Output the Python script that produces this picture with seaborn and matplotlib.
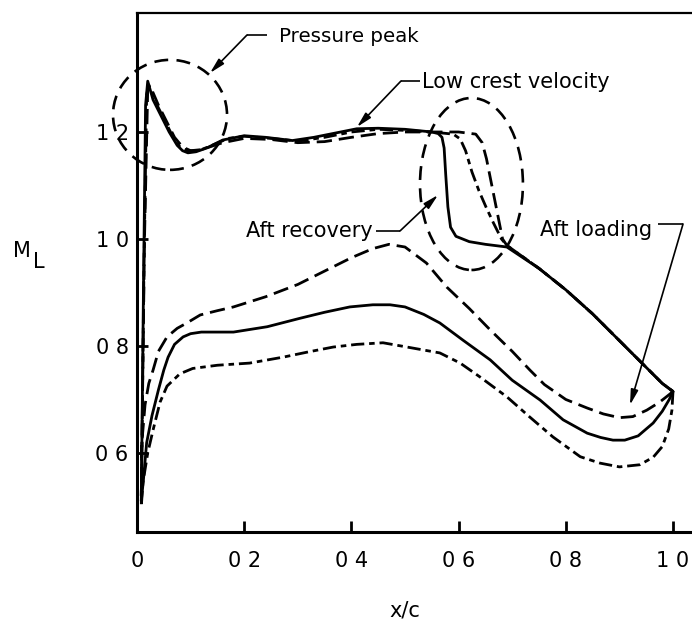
import numpy as np
import pandas as pd
import matplotlib
matplotlib.use("Agg")
import matplotlib.pyplot as plt
from matplotlib.patches import Ellipse
import seaborn as sns

# ---------------- data ----------------
# solid configuration
solid_upper_x = [0.008, 0.012, 0.016, 0.02, 0.03, 0.045, 0.06, 0.075, 0.085, 0.095, 0.11, 0.13, 0.16, 0.20,
                 0.24, 0.29, 0.33, 0.37, 0.41, 0.45, 0.50, 0.55, 0.562, 0.569, 0.573, 0.576, 0.58, 0.585,
                 0.595, 0.62, 0.65, 0.69, 0.75, 0.80, 0.85, 0.89, 0.93, 0.96, 0.98, 1.0]
solid_upper_m = [0.51, 0.90, 1.25, 1.295, 1.26, 1.23, 1.20, 1.175, 1.165, 1.161, 1.163, 1.17, 1.185, 1.193,
                 1.19, 1.184, 1.19, 1.198, 1.206, 1.207, 1.205, 1.20, 1.197, 1.19, 1.17, 1.12, 1.06, 1.022,
                 1.005, 0.995, 0.99, 0.985, 0.945, 0.905, 0.86, 0.82, 0.78, 0.75, 0.73, 0.715]
solid_lower_x = [0.008, 0.012, 0.018, 0.028, 0.04, 0.05, 0.058, 0.07, 0.086, 0.10, 0.12, 0.14, 0.18, 0.243,
                 0.305, 0.35, 0.397, 0.44, 0.472, 0.50, 0.535, 0.565, 0.608, 0.659, 0.70, 0.752, 0.795,
                 0.84, 0.865, 0.888, 0.91, 0.935, 0.963, 0.98, 0.993, 1.0]
solid_lower_m = [0.51, 0.55, 0.619, 0.67, 0.718, 0.755, 0.779, 0.803, 0.817, 0.823, 0.826, 0.826, 0.826,
                 0.836, 0.852, 0.863, 0.873, 0.877, 0.877, 0.873, 0.859, 0.843, 0.811, 0.774, 0.736, 0.699,
                 0.662, 0.637, 0.629, 0.624, 0.624, 0.632, 0.656, 0.678, 0.700, 0.715]

# long-dash configuration
dash_upper_x = [0.008, 0.014, 0.02, 0.025, 0.04, 0.055, 0.07, 0.085, 0.10, 0.12, 0.16, 0.2, 0.25, 0.3,
                0.35, 0.4, 0.45, 0.5, 0.55, 0.6, 0.632, 0.644, 0.652, 0.658, 0.664, 0.67, 0.676, 0.682,
                0.69, 0.75, 0.80, 0.85, 0.89, 0.93, 0.96, 0.98, 1.0]
dash_upper_m = [0.52, 1.0, 1.28, 1.285, 1.25, 1.22, 1.19, 1.172, 1.165, 1.167, 1.18, 1.188, 1.186, 1.18,
                1.182, 1.19, 1.197, 1.2, 1.2, 1.2, 1.196, 1.18, 1.15, 1.12, 1.09, 1.06, 1.03, 1.0,
                0.988, 0.945, 0.905, 0.86, 0.82, 0.78, 0.75, 0.73, 0.715]
dash_lower_x = [0.008, 0.009, 0.015, 0.022, 0.03, 0.04, 0.056, 0.075, 0.093, 0.118, 0.15, 0.18, 0.24, 0.30,
                0.36, 0.40, 0.44, 0.47, 0.50, 0.54, 0.578, 0.62, 0.659, 0.70, 0.733, 0.76, 0.80, 0.84,
                0.87, 0.90, 0.925, 0.951, 0.975, 0.994, 1.0]
dash_lower_m = [0.52, 0.619, 0.69, 0.73, 0.755, 0.79, 0.817, 0.833, 0.843, 0.858, 0.866, 0.873, 0.892, 0.915,
                0.945, 0.965, 0.982, 0.99, 0.985, 0.955, 0.910, 0.87, 0.83, 0.79, 0.755, 0.728, 0.70, 0.684,
                0.673, 0.666, 0.668, 0.68, 0.695, 0.71, 0.715]

# dash-dot configuration
dashdot_upper_x = [0.008, 0.013, 0.018, 0.022, 0.035, 0.05, 0.065, 0.08, 0.095, 0.115, 0.14, 0.17, 0.2,
                   0.25, 0.3, 0.35, 0.4, 0.45, 0.5, 0.55, 0.59, 0.603, 0.613, 0.625, 0.638, 0.651, 0.665,
                   0.68, 0.69, 0.75, 0.80, 0.85, 0.89, 0.93, 0.96, 0.98, 1.0]
dashdot_upper_m = [0.50, 0.95, 1.27, 1.288, 1.255, 1.225, 1.195, 1.172, 1.165, 1.165, 1.175, 1.188, 1.192,
                   1.188, 1.183, 1.19, 1.20, 1.205, 1.203, 1.20, 1.196, 1.187, 1.165, 1.125, 1.09, 1.06,
                   1.03, 1.0, 0.988, 0.945, 0.905, 0.86, 0.82, 0.78, 0.75, 0.73, 0.715]
dashdot_lower_x = [0.008, 0.011, 0.02, 0.03, 0.043, 0.056, 0.08, 0.104, 0.15, 0.21, 0.272, 0.32, 0.366,
                   0.41, 0.459, 0.515, 0.565, 0.603, 0.64, 0.69, 0.733, 0.776, 0.827, 0.864, 0.90, 0.938,
                   0.963, 0.98, 0.992, 0.998, 1.0]
dashdot_lower_m = [0.50, 0.544, 0.60, 0.643, 0.695, 0.725, 0.748, 0.758, 0.764, 0.768, 0.779, 0.789, 0.798,
                   0.803, 0.806, 0.796, 0.787, 0.768, 0.742, 0.705, 0.667, 0.63, 0.593, 0.581, 0.574, 0.578,
                   0.592, 0.612, 0.645, 0.68, 0.715]

x_ticks = [0.0, 0.2, 0.4, 0.6, 0.8, 1.0]
x_tick_labels = ["0", "0 2", "0 4", "0 6", "0 8", "1 0"]
y_ticks = [0.6, 0.8, 1.0, 1.2]
y_tick_labels = ["0 6", "0 8", "1 0", "1 2"]

# ---------------- figure ----------------
sns.set_style("white")
plt.rcParams["font.family"] = ["DejaVu Sans"]
plt.rcParams["text.color"] = "black"
plt.rcParams["lines.scale_dashes"] = False

W, H = 692, 622
fig = plt.figure(figsize=(W / 100, H / 100), dpi=100)
ax = fig.add_axes([137 / W, (H - 532) / H, (W - 137) / W, (532 - 13) / H])

styles = {
    "solid": "-",
    "dash": (0, (11, 5)),
    "dashdot": (0, (9.5, 3.5, 4, 3.5)),
}
configs = [
    ("solid", solid_lower_x, solid_lower_m, solid_upper_x, solid_upper_m),
    ("dash", dash_lower_x, dash_lower_m, dash_upper_x, dash_upper_m),
    ("dashdot", dashdot_lower_x, dashdot_lower_m, dashdot_upper_x, dashdot_upper_m),
]
for name, lx, lm, ux, um in configs:
    df = pd.DataFrame({
        "x": list(lx[::-1]) + list(ux),
        "M": list(lm[::-1]) + list(um),
    })
    sns.lineplot(data=df, x="x", y="M", sort=False, estimator=None, ax=ax,
                 color="black", lw=2.0, linestyle=styles[name], legend=False)

ax.set_xlim(0, 555 / 536)
ax.set_ylim(0.4523, 1.4224)
ax.set_xticks(x_ticks)
ax.set_xticklabels(x_tick_labels)
ax.set_yticks(y_ticks)
ax.set_yticklabels(y_tick_labels)
ax.xaxis.set_ticks_position("bottom")
ax.yaxis.set_ticks_position("left")
ax.tick_params(axis="both", direction="in", length=8, width=2, labelsize=15, colors="black")
ax.tick_params(axis="x", pad=14)
ax.tick_params(axis="y", pad=6)
ax.set_xlabel("")
ax.set_ylabel("")
for s in ["left", "bottom"]:
    ax.spines[s].set_linewidth(2.2)
    ax.spines[s].set_color("black")
ax.spines["top"].set_linewidth(1.6)
ax.spines["top"].set_color("black")

# axis titles
fig.text(405 / W, (H - 616) / H, "x/c", fontsize=15, ha="center", va="baseline", color="black")
fig.text(13 / W, (H - 257) / H, "M", fontsize=15, ha="left", va="baseline", color="black")
fig.text(33 / W, (H - 268) / H, "L", fontsize=15, ha="left", va="baseline", color="black")

# dashed ellipses
ell_kw = dict(fill=False, ec="black", lw=1.9, linestyle=(0, (10, 6)), clip_on=False)
ax.add_patch(Ellipse((0.0616, 1.232), 0.2127, 0.2056, **ell_kw))
ax.add_patch(Ellipse((0.624, 1.1028), 0.192, 0.3215, **ell_kw))

# annotations with leader lines
arrow_kw = dict(arrowstyle="-|>,head_length=0.9,head_width=0.22", lw=1.2, color="black",
                shrinkA=0, shrinkB=0)

def leader(text, text_xy, ha, p0, p1, tip, fs=15):
    ax.text(text_xy[0], text_xy[1], text, fontsize=fs, ha=ha, va="baseline", color="black")
    ax.plot([p0[0], p1[0]], [p0[1], p1[1]], color="black", lw=1.2, clip_on=False,
            solid_capstyle="butt")
    ax.annotate("", xy=tip, xytext=p1, arrowprops=arrow_kw, annotation_clip=False)

leader("Pressure peak", (0.265, 1.368), "left",
       (0.2425, 1.3813), (0.2052, 1.3813), (0.1362, 1.3103), fs=14.3)
leader("Low crest velocity", (0.5317, 1.282), "left",
       (0.528, 1.2953), (0.4925, 1.2953), (0.4104, 1.2093))
leader("Aft recovery", (0.4403, 1.0037), "right",
       (0.4459, 1.015), (0.4907, 1.015), (0.5616, 1.0822))
leader("Aft loading", (0.7519, 1.0056), "left",
       (0.972, 1.028), (1.0187, 1.028), (0.9198, 0.6897))

ax.spines["right"].set_visible(False)

fig.savefig("out.png", dpi=100)
